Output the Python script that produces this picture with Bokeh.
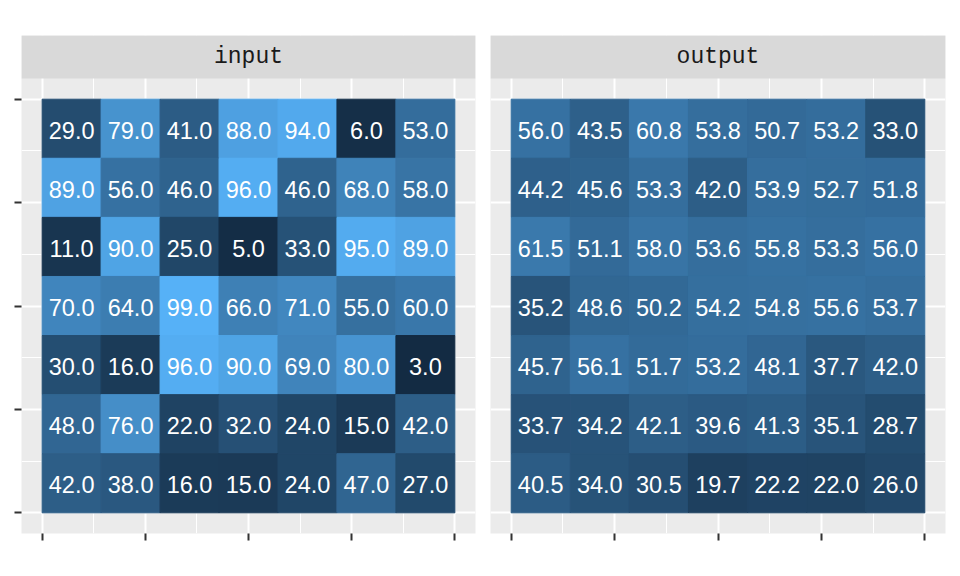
import numpy as np
from bokeh.plotting import figure
from bokeh.layouts import row
from bokeh.models import ColumnDataSource, LinearColorMapper, FixedTicker, Range1d
from bokeh.transform import transform
from bokeh.core.properties import value
from bokeh.embed import file_html
from bokeh.resources import INLINE

# ---------------- data ----------------
facets = ["input", "output"]
# rows listed top to bottom, columns left to right
input_values = [
    [29, 79, 41, 88, 94, 6, 53],
    [89, 56, 46, 96, 46, 68, 58],
    [11, 90, 25, 5, 33, 95, 89],
    [70, 64, 99, 66, 71, 55, 60],
    [30, 16, 96, 90, 69, 80, 3],
    [48, 76, 22, 32, 24, 15, 42],
    [42, 38, 16, 15, 24, 47, 27],
]
output_values = [
    [56.0, 43.5, 60.8, 53.8, 50.7, 53.2, 33.0],
    [44.2, 45.6, 53.3, 42.0, 53.9, 52.7, 51.8],
    [61.5, 51.1, 58.0, 53.6, 55.8, 53.3, 56.0],
    [35.2, 48.6, 50.2, 54.2, 54.8, 55.6, 53.7],
    [45.7, 56.1, 51.7, 53.2, 48.1, 37.7, 42.0],
    [33.7, 34.2, 42.1, 39.6, 41.3, 35.1, 28.7],
    [40.5, 34.0, 30.5, 19.7, 22.2, 22.0, 26.0],
]
major_ticks = [0.0, 0.25, 0.5, 0.75, 1.0]
minor_ticks = [0.125, 0.375, 0.625, 0.875]
tick_labels = ["", "", "", "", ""]
low_color = "#132B43"
high_color = "#56B1F7"

# ---------------- colour scale (CIELAB interpolation like ggplot) ----------------
M = np.array([[0.4124564, 0.3575761, 0.1804375],
              [0.2126729, 0.7151522, 0.0721750],
              [0.0193339, 0.1191920, 0.9503041]])
Minv = np.linalg.inv(M)
WHITE = M @ np.ones(3)
D = 6 / 29


def hex_to_lab(h):
    c = np.array([int(h[i:i + 2], 16) for i in (1, 3, 5)]) / 255.0
    lin = np.where(c <= 0.04045, c / 12.92, ((c + 0.055) / 1.055) ** 2.4)
    xyz = M @ lin / WHITE
    f = np.where(xyz > D ** 3, np.cbrt(xyz), xyz / (3 * D * D) + 4 / 29)
    return np.array([116 * f[1] - 16, 500 * (f[0] - f[1]), 200 * (f[1] - f[2])])


def lab_to_hex(lab):
    L, a, b = lab
    fy = (L + 16) / 116
    fx = fy + a / 500
    fz = fy - b / 200
    f = np.array([fx, fy, fz])
    xyz = np.where(f > D, f ** 3, 3 * D * D * (f - 4 / 29)) * WHITE
    lin = Minv @ xyz
    lin = np.clip(lin, 0, 1)
    c = np.where(lin <= 0.0031308, 12.92 * lin, 1.055 * lin ** (1 / 2.4) - 0.055)
    c = np.clip(np.round(c * 255), 0, 255).astype(int)
    return "#%02X%02X%02X" % tuple(c)


lab_lo, lab_hi = hex_to_lab(low_color), hex_to_lab(high_color)
palette = [lab_to_hex(lab_lo + (lab_hi - lab_lo) * t) for t in np.linspace(0, 1, 256)]
all_vals = np.concatenate([np.ravel(input_values), np.ravel(output_values)])
mapper = LinearColorMapper(palette=palette, low=float(all_vals.min()), high=float(all_vals.max()))

# ---------------- layout constants ----------------
PANEL_H_PX = 455
STRIP_H_PX = 43
EXP = 0.05
x_lo, x_hi = -EXP, 1 + EXP
strip_h = STRIP_H_PX * (1 + 2 * EXP) / PANEL_H_PX
y_lo, y_panel_hi = -EXP, 1 + EXP
y_hi = y_panel_hi + strip_h


def make_panel(name, vals, first):
    arr = np.array(vals, dtype=float)
    nr, nc = arr.shape
    r_idx, c_idx = np.meshgrid(np.arange(nr), np.arange(nc), indexing="ij")
    src = ColumnDataSource(dict(
        x=((c_idx + 0.5) / nc).ravel(),
        y=((nr - r_idx - 0.5) / nr).ravel(),
        v=arr.ravel(),
        label=["%.1f" % v for v in arr.ravel()],
    ))
    if first:
        w, bl, br = 482, 21, 7
    else:
        w, bl, br = 470, 8, 7
    p = figure(width=w, height=568, title=None, toolbar_location=None,
               output_backend="svg",
               x_range=Range1d(x_lo, x_hi), y_range=Range1d(y_lo, y_hi),
               y_axis_location="left" if first else None,
               min_border_left=bl, min_border_right=br,
               min_border_top=35, min_border_bottom=35)
    p.background_fill_color = "#EBEBEB"
    p.border_fill_color = "white"
    p.outline_line_color = None

    ticker = FixedTicker(ticks=major_ticks, minor_ticks=minor_ticks)
    overrides = {t: lab for t, lab in zip(major_ticks, tick_labels)}
    for g in p.grid:
        g.ticker = ticker
        g.grid_line_color = "white"
        g.grid_line_width = 2
        g.minor_grid_line_color = "white"
        g.minor_grid_line_width = 1
    for ax in p.axis:
        ax.ticker = ticker
        ax.axis_line_color = None
        ax.major_tick_line_color = "#333333"
        ax.major_tick_line_width = 2
        ax.major_tick_out = 7
        ax.major_tick_in = 0
        ax.minor_tick_line_color = None
        ax.major_label_overrides = overrides
        ax.major_label_standoff = 0
        ax.major_label_text_font_size = "12px"

    p.rect(x="x", y="y", width=1 / nc, height=1 / nr, source=src,
           fill_color=transform("v", mapper), line_color=transform("v", mapper),
           line_width=1)
    p.text(x="x", y="y", text="label", source=src, text_color="white",
           text_font=value("Liberation Sans"), text_font_size="23.5px",
           text_align="center", text_baseline="middle", y_offset=1.5)

    # facet strip
    p.quad(left=[x_lo], right=[x_hi], bottom=[y_panel_hi], top=[y_hi],
           fill_color="#D9D9D9", line_color=None)
    p.text(x=[0.5], y=[(y_panel_hi + y_hi) / 2], text=[name], text_color="#1A1A1A",
           text_font=value("Liberation Mono"), text_font_size="23px",
           text_align="center", text_baseline="middle")
    return p


p1 = make_panel(facets[0], input_values, True)
p2 = make_panel(facets[1], output_values, False)
layout = row(p1, p2)

open("out.html", "w").write(file_html(layout, INLINE))
